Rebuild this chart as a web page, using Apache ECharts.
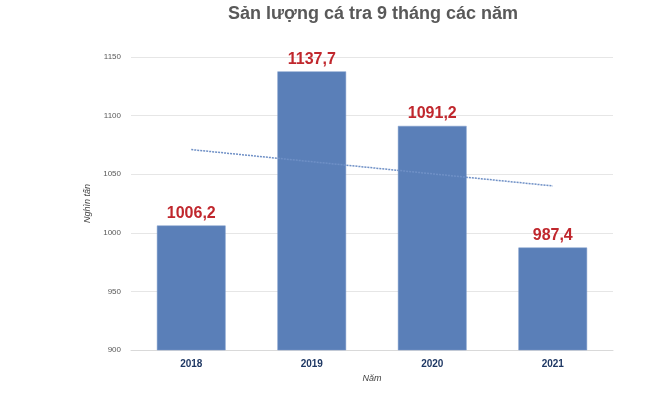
<!DOCTYPE html>
<html>
<head>
<meta charset="utf-8">
<script src="https://cdn.jsdelivr.net/npm/echarts@6/dist/echarts.min.js"></script>
<style>html,body{margin:0;padding:0;background:#fff}#c{width:660px;height:420px}</style>
</head>
<body>
<div id="c"></div>
<script>
const categories = ['2018', '2019', '2020', '2021'];
const values = [1006.2, 1137.7, 1091.2, 987.4];
const trendValues = [1071, null, null, 1040];
const yTicks = { min: 900, max: 1150, interval: 50 };

const chart = echarts.init(document.getElementById('c'));
chart.setOption({
  animation: false,
  title: {
    text: 'Sản lượng cá tra 9 tháng các năm',
    left: 368, textAlign: 'center', top: 0,
    textStyle: { fontFamily: 'Liberation Sans, Arial', fontSize: 18, fontWeight: 'bold', color: '#595959' }
  },
  grid: { left: 131, right: 47, top: 57, bottom: 70 },
  xAxis: {
    type: 'category', data: categories,
    name: 'Năm', nameLocation: 'middle', nameGap: 21,
    nameTextStyle: { fontFamily: 'Liberation Sans, Arial', fontStyle: 'italic', fontSize: 9, color: '#404040' },
    axisLine: { lineStyle: { color: '#d9d9d9' } },
    axisTick: { show: false },
    axisLabel: { fontFamily: 'Liberation Sans, Arial', fontWeight: 'bold', fontSize: 10, color: '#1f3864', margin: 9 }
  },
  yAxis: {
    type: 'value', min: yTicks.min, max: yTicks.max, interval: yTicks.interval,
    name: 'Nghìn tấn', nameLocation: 'middle', nameGap: 34, nameRotate: 90,
    nameTextStyle: { fontFamily: 'Liberation Sans, Arial', fontStyle: 'italic', fontSize: 9, color: '#404040' },
    axisLine: { show: false }, axisTick: { show: false },
    axisLabel: { fontFamily: 'Liberation Sans, Arial', fontSize: 8, color: '#595959', margin: 10, formatter: v => String(v) },
    splitLine: { lineStyle: { color: '#e6e6e6' } }
  },
  series: [{
    type: 'bar', data: values, barWidth: '57%',
    itemStyle: { color: '#5a7fb8', borderColor: '#7d9bcb', borderWidth: 0.5 },
    label: {
      show: true, position: 'top', distance: 4,
      formatter: p => String(p.value).replace('.', ','),
      fontFamily: 'Liberation Sans, Arial', fontWeight: 'bold', fontSize: 16, color: '#c0272d'
    }
  }, {
    type: 'line', data: trendValues, connectNulls: true, symbol: 'none', z: 3,
    lineStyle: { color: '#6f90c6', width: 1.5, type: [2, 1] }
  }]
});
</script>
</body>
</html>
